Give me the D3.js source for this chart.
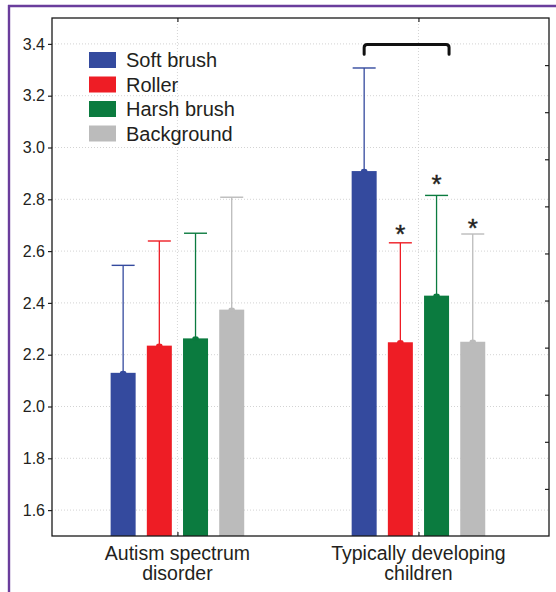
<!DOCTYPE html>
<html>
<head>
<meta charset="utf-8">
<script src="https://cdn.jsdelivr.net/npm/d3@7"></script>
<style>
  html, body { margin: 0; padding: 0; background: #fff; }
  svg { display: block; font-family: "Liberation Sans", Arial, sans-serif; }
</style>
</head>
<body>
<svg id="chart" width="556" height="592"></svg>
<script>
// ---- data ----
const groups = ["Autism spectrum disorder", "Typically developing children"];
const groupLines = [["Autism spectrum", "disorder"], ["Typically developing", "children"]];
const series = ["Soft brush", "Roller", "Harsh brush", "Background"];
const colors = ["#344a9e", "#ee1d25", "#0b7b3f", "#bbbbbb"];
const meansASD = [2.13, 2.235, 2.263, 2.374];
const upperASD = [2.545, 2.639, 2.669, 2.808];
const meansTD = [2.909, 2.248, 2.428, 2.250];
const upperTD = [3.307, 2.632, 2.815, 2.666];
const yTicks = [1.6, 1.8, 2.0, 2.2, 2.4, 2.6, 2.8, 3.0, 3.2, 3.4];
const yDomain = [1.5, 3.5];
const stars = [ // group index, series index, value of star centre
  {g: 1, s: 1, v: 2.688},
  {g: 1, s: 2, v: 2.881},
  {g: 1, s: 3, v: 2.711}
];
const bracket = {g: 1, from: 0, to: 2, top: 3.398, end: 3.36};

// ---- layout ----
const svg = d3.select("#chart");
const L = 52, T = 18, R = 549, B = 536;

const y = d3.scaleLinear().domain(yDomain).range([B, T]);
const x0 = d3.scalePoint().domain(groups).range([L, R]).padding(0.531).align(0.49);
const x1 = d3.scaleBand().domain(series).range([-66.8, 66.8]).paddingInner(0.309);
const yR = d3.scaleLinear().domain([0, 11]).range([B, T]);

const data = [];
[[meansASD, upperASD], [meansTD, upperTD]].forEach(([m, u], gi) => {
  series.forEach((s, si) => data.push({g: groups[gi], gi, s, si, mean: m[si], up: u[si], color: colors[si]}));
});

// purple frame
svg.append("line").attr("x1", 9).attr("x2", 9).attr("y1", 5).attr("y2", 592)
  .attr("stroke", "#6a3d9c").attr("stroke-width", 2.4);
svg.append("line").attr("x1", 8).attr("x2", 556).attr("y1", 6).attr("y2", 6)
  .attr("stroke", "#6a3d9c").attr("stroke-width", 2.4);

// grid
const grid = svg.append("g");
grid.selectAll("line.h").data(yTicks).join("line")
  .attr("x1", L).attr("x2", R).attr("y1", d => y(d)).attr("y2", d => y(d))
  .attr("stroke", "#c8c8c8").attr("stroke-width", 0.8).attr("stroke-dasharray", "1,2");
grid.selectAll("line.v").data(groups).join("line")
  .attr("x1", d => x0(d)).attr("x2", d => x0(d)).attr("y1", T).attr("y2", B)
  .attr("stroke", "#c8c8c8").attr("stroke-width", 0.8).attr("stroke-dasharray", "1,2");

// bars
const bw = x1.bandwidth();
const bars = svg.append("g");
bars.selectAll("rect").data(data).join("rect")
  .attr("x", d => x0(d.g) + x1(d.s))
  .attr("y", d => y(d.mean))
  .attr("width", bw)
  .attr("height", d => B - y(d.mean))
  .attr("fill", d => d.color);

// error whiskers
const err = svg.append("g");
err.selectAll("line.w").data(data).join("line")
  .attr("x1", d => x0(d.g) + x1(d.s) + bw / 2).attr("x2", d => x0(d.g) + x1(d.s) + bw / 2)
  .attr("y1", d => y(d.mean)).attr("y2", d => y(d.up))
  .attr("stroke", d => d.color).attr("stroke-width", 1.3);
err.selectAll("line.c").data(data).join("line")
  .attr("x1", d => x0(d.g) + x1(d.s) + 1).attr("x2", d => x0(d.g) + x1(d.s) + bw - 1)
  .attr("y1", d => y(d.up)).attr("y2", d => y(d.up))
  .attr("stroke", d => d.color).attr("stroke-width", 1.4);
err.selectAll("ellipse").data(data).join("ellipse")
  .attr("cx", d => x0(d.g) + x1(d.s) + bw / 2).attr("cy", d => y(d.mean))
  .attr("rx", 3.2).attr("ry", 2.2).attr("fill", d => d.color);

// axes
const axL = d3.axisLeft(y).tickValues(yTicks).tickFormat(d3.format(".1f")).tickSize(4).tickPadding(3);
const gL = svg.append("g").attr("transform", `translate(${L},0)`).call(axL);
gL.select(".domain").remove();
gL.selectAll(".tick line").attr("stroke", "#222").attr("stroke-width", 1.2);
gL.selectAll(".tick text").attr("font-size", 16).attr("fill", "#231f20")
  .attr("font-family", "Liberation Sans, Arial, sans-serif");

const axR = d3.axisLeft(yR).tickValues(d3.range(1, 11)).tickFormat("").tickSize(4);
const gR = svg.append("g").attr("transform", `translate(${R},0)`).call(axR);
gR.select(".domain").remove();
gR.selectAll(".tick line").attr("stroke", "#222").attr("stroke-width", 1.2);

const axB = d3.axisTop(x0).tickFormat("").tickSize(4);
const gB = svg.append("g").attr("transform", `translate(0,${B})`).call(axB);
gB.select(".domain").remove();
gB.selectAll(".tick line").attr("stroke", "#222").attr("stroke-width", 1.2);

const axT = d3.axisBottom(x0).tickFormat("").tickSize(4);
const gT = svg.append("g").attr("transform", `translate(0,${T})`).call(axT);
gT.select(".domain").remove();
gT.selectAll(".tick line").attr("stroke", "#222").attr("stroke-width", 1.2);

// plot frame
svg.append("rect").attr("x", L).attr("y", T).attr("width", R - L).attr("height", B - T)
  .attr("fill", "none").attr("stroke", "#1a1a1a").attr("stroke-width", 1.3);

// category labels
const cl = svg.append("g");
groups.forEach((g, gi) => {
  const t = cl.append("text").attr("x", x0(g)).attr("y", 559.5)
    .attr("text-anchor", "middle").attr("font-size", 19.5).attr("fill", "#231f20");
  groupLines[gi].forEach((ln, li) => {
    t.append("tspan").attr("x", x0(g)).attr("dy", li === 0 ? 0 : 20.5).text(ln);
  });
});

// asterisks
svg.append("g").selectAll("text").data(stars).join("text")
  .attr("x", d => x0(groups[d.g]) + x1(series[d.s]) + bw / 2)
  .attr("y", d => y(d.v) + 15)
  .attr("text-anchor", "middle").attr("font-size", 26).attr("fill", "#231f20")
  .attr("stroke", "#231f20").attr("stroke-width", 0.4)
  .text("*");

// bracket
{
  const gx = x0(groups[bracket.g]);
  const xa = gx + x1(series[bracket.from]) + bw / 2;
  const xb = gx + x1(series[bracket.to]) + bw;
  const yt = y(bracket.top), ye = y(bracket.end), r = 3;
  svg.append("path")
    .attr("d", `M${xa},${ye} L${xa},${yt + r} Q${xa},${yt} ${xa + r},${yt} L${xb - r},${yt} Q${xb},${yt} ${xb},${yt + r} L${xb},${ye}`)
    .attr("fill", "none").attr("stroke", "#111").attr("stroke-width", 3).attr("stroke-linecap", "round");
}

// legend
const lg = svg.append("g");
series.forEach((s, i) => {
  const cy = 60 + i * 24.5;
  lg.append("rect").attr("x", 89).attr("y", cy - 8).attr("width", 27).attr("height", 16).attr("fill", colors[i]);
  lg.append("text").attr("x", 126).attr("y", cy + 7).attr("font-size", 20).attr("fill", "#231f20").text(s);
});
</script>
</body>
</html>
